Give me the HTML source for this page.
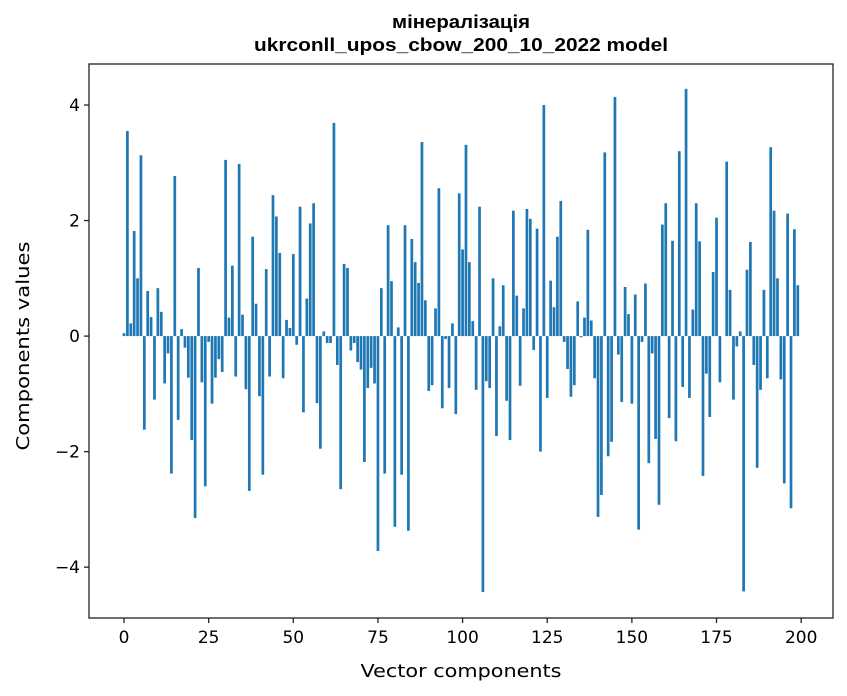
<!DOCTYPE html>
<html><head><meta charset="utf-8"><style>
body{margin:0;background:#fff;font-family:"DejaVu Sans","Liberation Sans",sans-serif}
</style></head><body>
<svg id="chart" width="847" height="696" xmlns="http://www.w3.org/2000/svg" style="display:block"></svg>
<script>
const categories = Array.from({length:200},(_,i)=>i);
const values = [0.05,3.55,0.22,1.82,1.0,3.13,-1.62,0.78,0.33,-1.1,0.83,0.42,-0.82,-0.3,-2.38,2.77,-1.45,0.12,-0.2,-0.72,
-1.8,-3.15,1.18,-0.8,-2.6,-0.1,-1.17,-0.72,-0.4,-0.62,3.05,0.32,1.22,-0.7,2.98,0.37,-0.92,-2.68,1.72,0.56,
-1.04,-2.4,1.16,-0.7,2.44,2.07,1.44,-0.73,0.28,0.14,1.42,-0.15,2.24,-1.32,0.65,1.95,2.3,-1.16,-1.95,0.08,
-0.12,-0.12,3.69,-0.5,-2.65,1.25,1.18,-0.25,-0.12,-0.45,-0.58,-2.18,-0.9,-0.55,-0.82,-3.72,0.83,-2.38,1.92,0.95,
-3.3,0.15,-2.4,1.92,-3.37,1.68,1.28,0.92,3.36,0.62,-0.95,-0.85,0.48,2.56,-1.25,-0.05,-0.9,0.22,-1.35,2.47,
1.5,3.31,1.28,0.26,-0.93,2.24,-4.43,-0.78,-0.9,1.0,-1.73,0.17,0.88,-1.12,-1.8,2.17,0.7,-0.86,0.48,2.2,
2.03,-0.24,1.86,-2.0,4.0,-1.07,0.96,0.5,1.72,2.34,-0.1,-0.57,-1.05,-0.85,0.6,-0.02,0.32,1.84,0.27,-0.73,
-3.13,-2.75,3.18,-2.08,-1.83,4.14,-0.32,-1.14,0.85,0.38,-1.17,0.72,-3.35,-0.1,0.91,-2.2,-0.3,-1.78,-2.92,1.93,
2.3,-1.42,1.65,-1.82,3.2,-0.88,4.28,-1.07,0.46,2.3,1.64,-2.42,-0.65,-1.4,1.11,2.05,-0.8,0.0,3.02,0.8,
-1.1,-0.18,0.08,-4.42,1.15,1.63,-0.5,-2.28,-0.93,0.8,-0.73,3.27,2.17,1.0,-0.75,-2.55,2.12,-2.98,1.85,0.88];
const xTicks = [0,25,50,75,100,125,150,175,200];
const yTicks = [-4,-2,0,2,4];

const svg=document.getElementById('chart');
const NS='http://www.w3.org/2000/svg';
const L=89,R=833,T=64,B=618;
const xMin=-10.34,xMax=209.4,yMin=-4.88,yMax=4.71;
const xs=v=>L+(v-xMin)/(xMax-xMin)*(R-L);
const ys=v=>B-(v-yMin)/(yMax-yMin)*(B-T);
function mk(tag,attrs,parent){const e=document.createElementNS(NS,tag);for(const k in attrs)e.setAttribute(k,attrs[k]);(parent||svg).appendChild(e);return e;}

const bars=mk('g',{});


categories.forEach((c,i)=>{
  const v=values[i];const x0=xs(c-0.4),x1=xs(c+0.4);
  const y0=ys(Math.max(v,0)),y1=ys(Math.min(v,0));
  const r=mk('rect',{x:x0,y:y0,width:x1-x0,height:Math.max(y1-y0,0),fill:'#1f77b4'},bars);
  
  
});
const frame=mk('rect',{x:L,y:T,width:R-L,height:B-T,fill:'none',stroke:'#222','stroke-width':1.3});



xTicks.forEach(t=>{
  const x=xs(t);
  mk('line',{x1:x,x2:x,y1:B,y2:B+5,stroke:'#222','stroke-width':1.3});
  const tx=mk('text',{x:x,y:B+25,'text-anchor':'middle','font-size':17,fill:'#000'});
  tx.textContent=t;
  
  
});
yTicks.forEach(t=>{
  const y=ys(t);
  mk('line',{x1:L-5,x2:L,y1:y,y2:y,stroke:'#222','stroke-width':1.3});
  const tx=mk('text',{x:L-9,y:y+6,'text-anchor':'end','font-size':17,fill:'#000'});
  tx.textContent=(t<0?'\u2212'+(-t):t);
  
  
});
const TF='"Liberation Sans",sans-serif';
let e=mk('text',{x:(L+R)/2,y:28,'text-anchor':'middle','font-size':18,'font-weight':'bold','font-family':TF,textLength:138,lengthAdjust:'spacingAndGlyphs'});
e.textContent='мінералізація';


e=mk('text',{x:(L+R)/2,y:51,'text-anchor':'middle','font-size':18,'font-weight':'bold','font-family':TF,textLength:414,lengthAdjust:'spacingAndGlyphs'});
e.textContent='ukrconll_upos_cbow_200_10_2022 model';


e=mk('text',{x:(L+R)/2,y:677,'text-anchor':'middle','font-size':18,textLength:201,lengthAdjust:'spacingAndGlyphs'});
e.textContent='Vector components';


const yc=(T+B)/2+5;
e=mk('text',{x:29,y:yc,'text-anchor':'middle','font-size':18,textLength:209,lengthAdjust:'spacingAndGlyphs',transform:'rotate(-90 29 '+yc+')'});
e.textContent='Components values';


</script>
</body></html>
